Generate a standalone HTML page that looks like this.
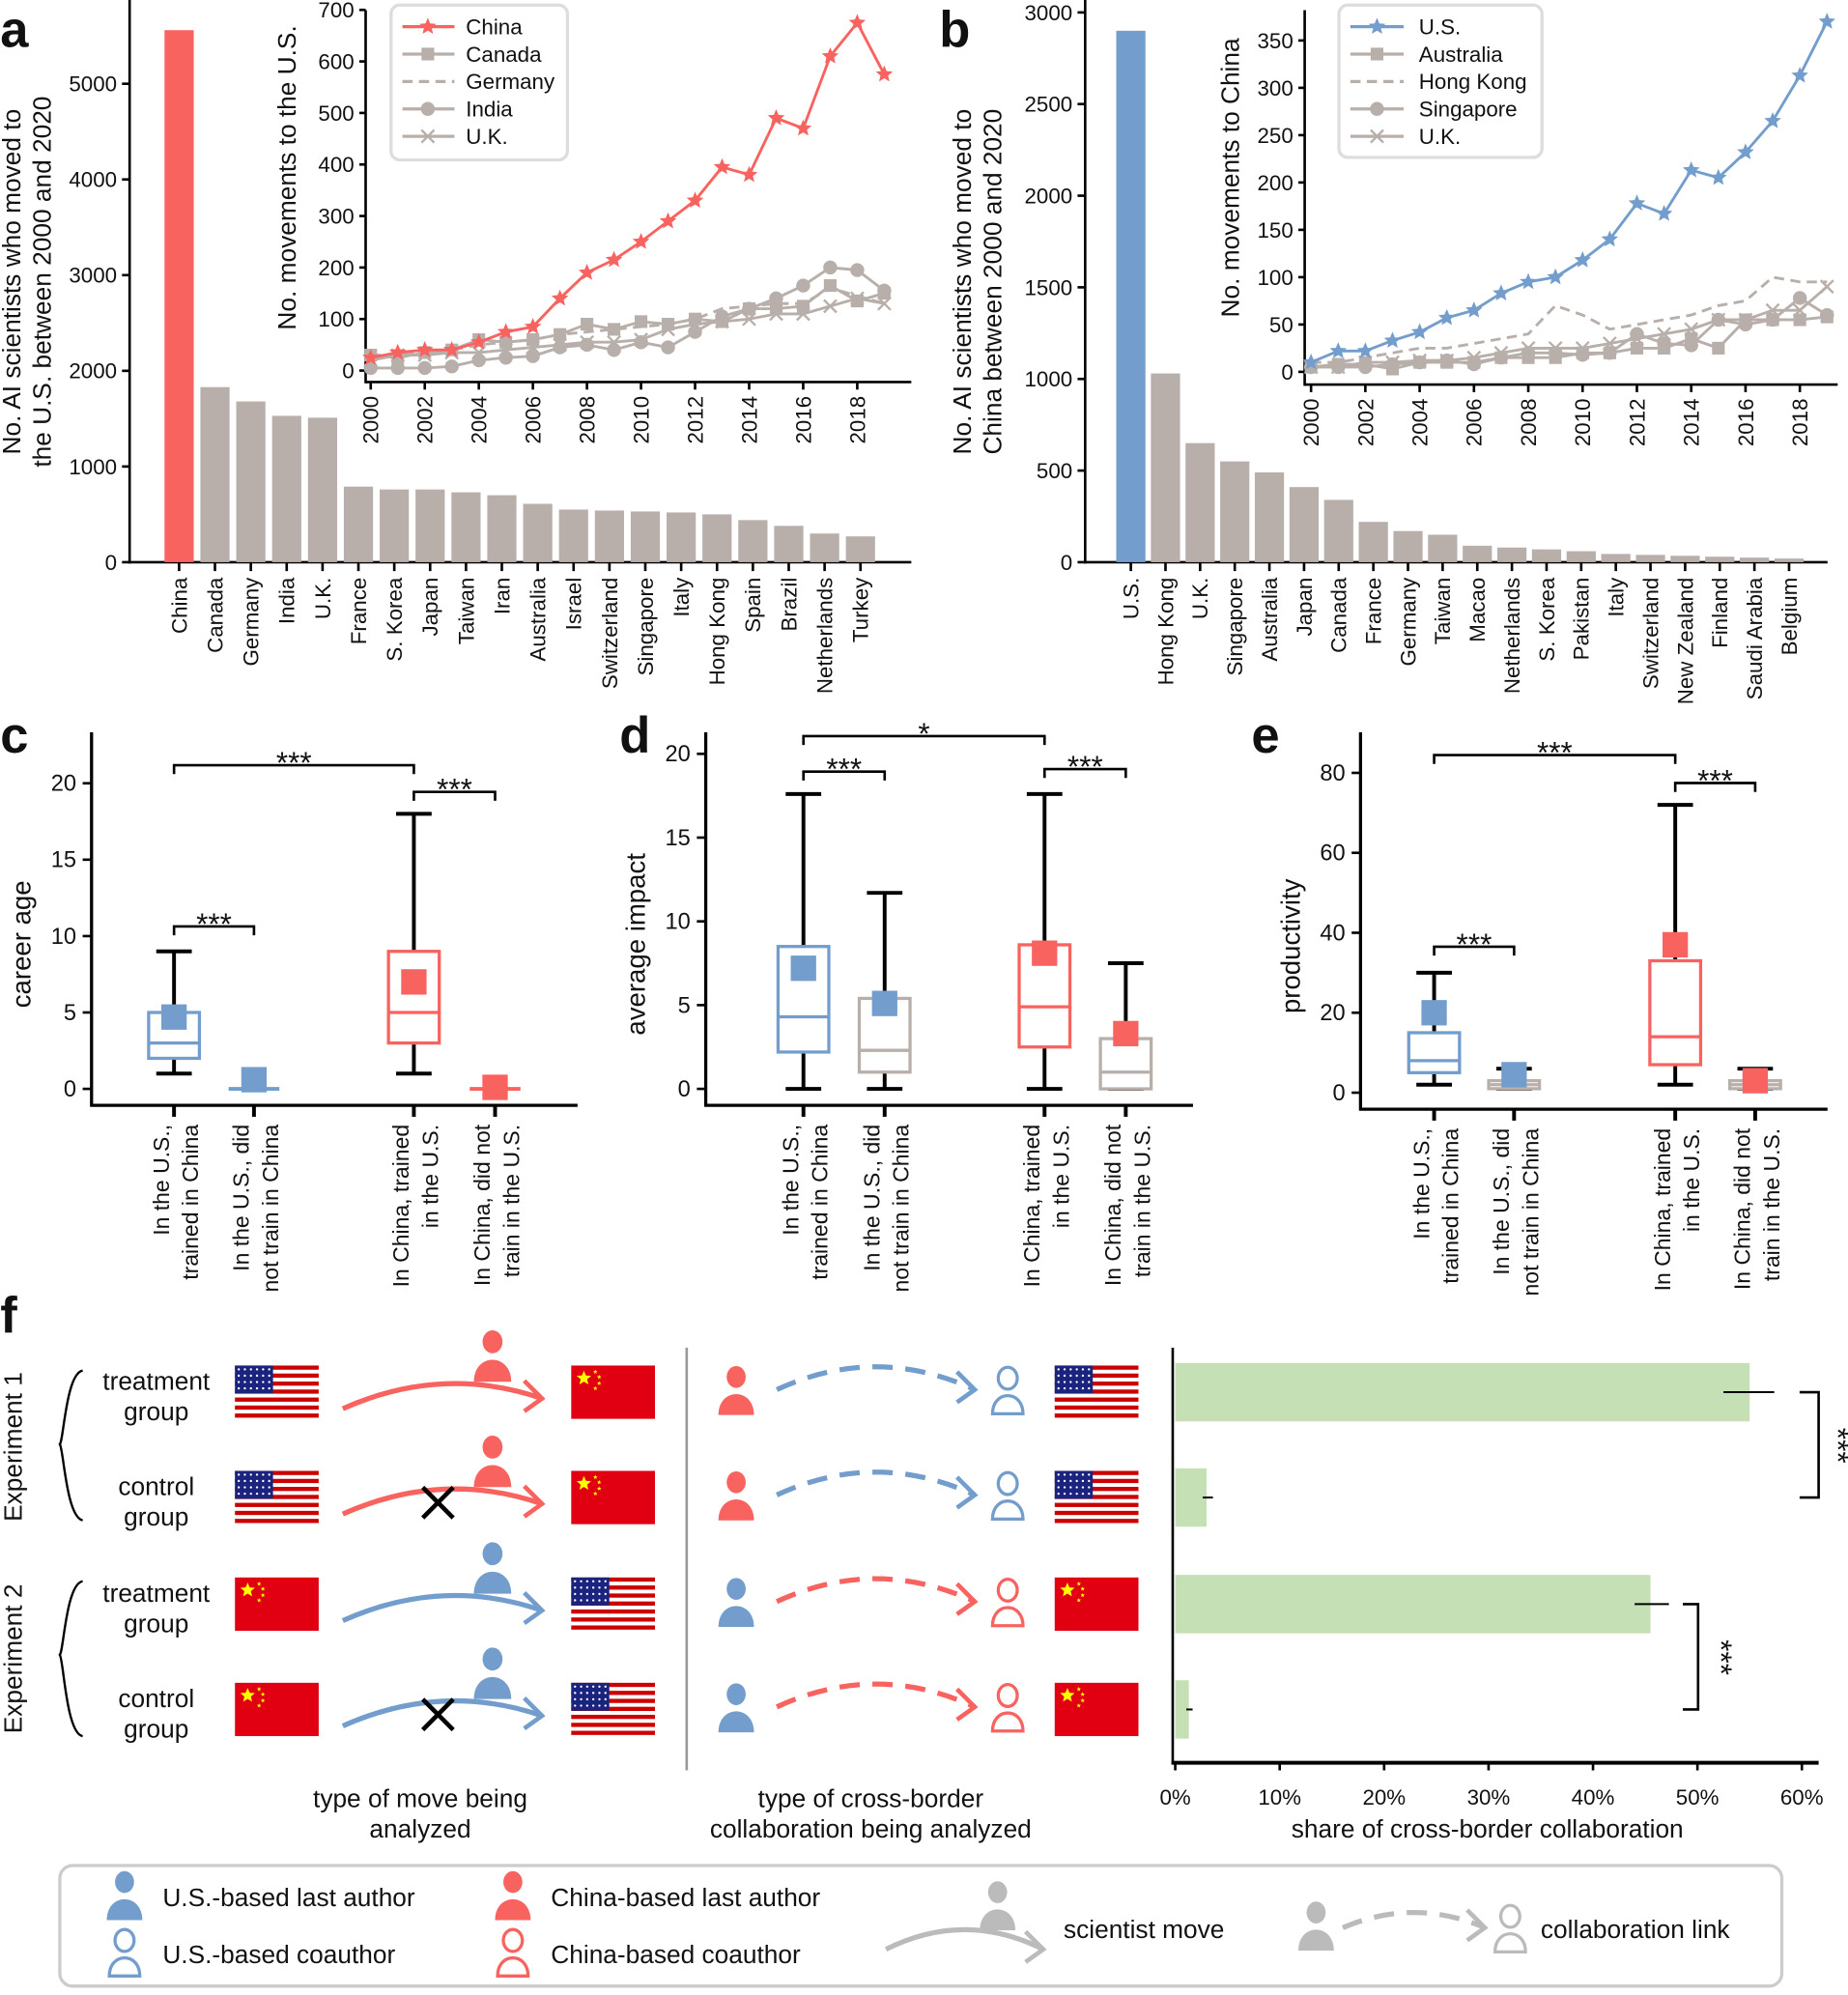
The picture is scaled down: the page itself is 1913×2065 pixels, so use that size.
<!DOCTYPE html>
<html><head><meta charset="utf-8"><style>
html,body{margin:0;padding:0;background:#fff;}
svg{display:block;font-family:"Liberation Sans",sans-serif;}
</style></head><body>
<svg id="s" xmlns="http://www.w3.org/2000/svg" width="1913" height="2065" viewBox="0 0 1456 1572"></svg>
<script>
const S=document.getElementById('s');
let H='';
const R='#f8625f',B='#739dcc',G='#b8afab',GL='#c5e0b4';
function t(x,y,s,o){o=o||{};H+=`<text x="${x}" y="${y}" font-size="${o.fs||17}" fill="${o.c||'#111'}" text-anchor="${o.a||'start'}" ${o.fw?'font-weight="'+o.fw+'"':''} ${o.r!==undefined?`transform="rotate(${o.r} ${x} ${y})"`:''}>${s}</text>`;}
function l(x1,y1,x2,y2,c,w,d){H+=`<line x1="${x1}" y1="${y1}" x2="${x2}" y2="${y2}" stroke="${c||'#000'}" stroke-width="${w||2}" ${d?'stroke-dasharray="'+d+'"':''}/>`;}
function rc(x,y,w,h,f,st,sw){H+=`<rect x="${x}" y="${y}" width="${w}" height="${h}" fill="${f||'none'}" ${st?`stroke="${st}" stroke-width="${sw||2.5}"`:''}/>`;}
function pl(pts,c,w,d){H+=`<polyline points="${pts.map(p=>p.join(',')).join(' ')}" fill="none" stroke="${c}" stroke-width="${w||2}" ${d?'stroke-dasharray="'+d+'"':''}/>`;}
function star(x,y,r,c){let p=[];for(let i=0;i<10;i++){let a=-Math.PI/2+i*Math.PI/5,rr=i%2?r*0.45:r;p.push([x+rr*Math.cos(a),y+rr*Math.sin(a)]);}H+=`<polygon points="${p.map(q=>q.join(',')).join(' ')}" fill="${c}"/>`;}
function mk(type,x,y,c){if(type=='star')star(x,y,7,c);else if(type=='sq')rc(x-5,y-5,10,10,c);else if(type=='ci')H+=`<circle cx="${x}" cy="${y}" r="5.5" fill="${c}"/>`;else if(type=='x'){l(x-5,y-5,x+5,y+5,c,1.8);l(x-5,y+5,x+5,y-5,c,1.8);}}
t(0,37,'a',{fs:40,fw:'bold'});t(740,37,'b',{fs:40,fw:'bold'});t(0,593,'c',{fs:40,fw:'bold'});t(488,593,'d',{fs:40,fw:'bold'});t(986,593,'e',{fs:40,fw:'bold'});t(0,1050,'f',{fs:40,fw:'bold'});

(function(){
const y0=443,k=0.0754,x0=141,dx=28.26;
const names=['China','Canada','Germany','India','U.K.','France','S. Korea','Japan','Taiwan','Iran','Australia','Israel','Switzerland','Singapore','Italy','Hong Kong','Spain','Brazil','Netherlands','Turkey'];
const v=[5560,1830,1680,1530,1510,790,760,760,730,700,610,550,540,530,520,500,440,380,300,270];
l(102,0,102,444,'#000',2);l(101,443,718,443,'#000',2);
[0,1000,2000,3000,4000,5000].forEach(q=>{let y=y0-q*k;l(96,y,102,y);t(92,y+6,q,{a:'end'});});
names.forEach((n,i)=>{let x=x0+i*dx;rc(x-11.5,y0-v[i]*k,23,v[i]*k,i?G:R);l(x,443,x,450);t(x+6,455,n,{a:'end',r:-90});});
t(16,222,'No. AI scientists who moved to',{a:'middle',r:-90,fs:20});t(40,222,'the U.S. between 2000 and 2020',{a:'middle',r:-90,fs:20});
const ix=292,iy=292,ky=0.406,kx=21.3;
l(288,8,288,302);l(288,301,718,301);
[0,100,200,300,400,500,600,700].forEach(q=>{let y=iy-q*ky;l(283,y,288,y);t(279,y+6,q,{a:'end'});});
for(let yr=2000;yr<=2018;yr+=2){let x=ix+(yr-2000)*kx;l(x,301,x,307);t(x+6,312,yr,{a:'end',r:-90});}
t(233,140,'No.  movements to the U.S.',{a:'middle',r:-90,fs:20});
const P=(arr)=>arr.map((v,i)=>[ix+i*kx,iy-v*ky]);
const ser=[
['ci',[5,5,5,8,20,25,28,45,50,40,55,45,75,105,120,140,165,200,195,155],'',G],
['x',[20,30,30,35,35,40,45,50,55,55,60,80,90,95,100,110,110,125,140,130],'',G],
['', [30,30,35,40,50,55,60,70,75,80,85,90,100,120,125,130,130,160,145,130],'8,5',G],
['sq',[30,25,35,40,60,55,60,70,90,80,95,90,100,95,120,120,125,165,135,150],'',G],
['star',[25,35,40,40,55,75,85,140,190,215,250,290,330,395,380,490,470,610,675,575],'',R]];
ser.forEach(s=>{let p=P(s[1]);pl(p,s[3],2.2,s[2]);if(s[0])p.forEach(q=>mk(s[0],q[0],q[1],s[3]));});
H+=`<rect x="308" y="4" width="139" height="122" rx="7" fill="#fff" stroke="#ddd" stroke-width="2.5"/>`;
[['star',R,'China'],['sq',G,'Canada'],['',G,'Germany'],['ci',G,'India'],['x',G,'U.K.']].forEach((e,i)=>{let y=21+i*21.6;pl([[317,y],[358,y]],e[1],2.5,e[0]?'':'8,5');if(e[0])mk(e[0],337,y,e[1]);t(367,y+6,e[2]);});
})();

(function(){
const y0=443,k=0.1444,x0=891,dx=27.3;
const names=['U.S.','Hong Kong','U.K.','Singapore','Australia','Japan','Canada','France','Germany','Taiwan','Macao','Netherlands','S. Korea','Pakistan','Italy','Switzerland','New Zealand','Finland','Saudi Arabia','Belgium'];
const v=[2900,1030,650,550,490,410,340,220,170,150,90,80,70,60,45,40,35,30,25,20];
l(855,0,855,444);l(854,443,1440,443);
[0,500,1000,1500,2000,2500,3000].forEach(q=>{let y=y0-q*k;l(849,y,855,y);t(845,y+6,q,{a:'end'});});
names.forEach((n,i)=>{let x=x0+i*dx;rc(x-11.5,y0-v[i]*k,23,v[i]*k,i?G:B);l(x,443,x,450);t(x+6,455,n,{a:'end',r:-90});});
t(765,222,'No. AI scientists who moved to',{a:'middle',r:-90,fs:20});t(789,222,'China between 2000 and 2020',{a:'middle',r:-90,fs:20});
const ix=1033,iy=293,ky=0.746,kx=21.4;
l(1028,8,1028,304);l(1028,303,1448,303);
[0,50,100,150,200,250,300,350].forEach(q=>{let y=iy-q*ky;l(1023,y,1028,y);t(1019,y+6,q,{a:'end'});});
for(let yr=2000;yr<=2018;yr+=2){let x=ix+(yr-2000)*kx;l(x,303,x,309);t(x+6,314,yr,{a:'end',r:-90});}
t(976,140,'No.  movements to China',{a:'middle',r:-90,fs:20});
const P=(arr)=>arr.map((v,i)=>[ix+i*kx,iy-v*ky]);
const ser=[
['', [10,10,15,20,25,25,30,35,40,70,60,45,50,55,60,70,75,100,95,95],'8,5',G],
['x',[5,5,10,10,12,12,15,20,25,25,25,30,35,40,45,55,55,65,65,90],'',G],
['ci',[5,5,5,8,10,12,8,15,20,20,18,20,40,30,28,55,50,55,78,60],'',G],
['sq',[5,8,8,3,10,10,10,15,15,15,20,20,25,25,35,25,55,55,55,58],'',G],
['star',[10,22,22,33,42,57,65,83,95,100,118,140,178,167,213,205,232,265,313,370],'',B]];
ser.forEach(s=>{let p=P(s[1]);pl(p,s[3],2.2,s[2]);if(s[0])p.forEach(q=>mk(s[0],q[0],q[1],s[3]));});
H+=`<rect x="1055" y="4" width="160" height="120" rx="7" fill="#fff" stroke="#ddd" stroke-width="2.5"/>`;
[['star',B,'U.S.'],['sq',G,'Australia'],['',G,'Hong Kong'],['ci',G,'Singapore'],['x',G,'U.K.']].forEach((e,i)=>{let y=21+i*21.6;pl([[1064,y],[1106,y]],e[1],2.5,e[0]?'':'8,5');if(e[0])mk(e[0],1085,y,e[1]);t(1118,y+6,e[2]);});
})();

function boxPanel(o){
const y=v=>o.y0-v*o.k;
l(o.ax,o.top,o.ax,o.xb+1,'#000',2.5);l(o.ax-1,o.xb,o.xr,o.xb,'#000',2.5);
o.ticks.forEach(q=>{l(o.ax-7,y(q),o.ax,y(q),'#000',2);t(o.ax-12,y(q)+6,q,{a:'end',fs:18});});
t(o.ax-48,(o.top+o.xb)/2+20,o.lab,{a:'middle',r:-90,fs:21});
const labs=[['In the U.S.,','trained in China'],['In the U.S., did','not train in China'],['In China, trained','in the U.S.'],['In China, did not','train in the U.S.']];
o.b.forEach((b,i)=>{const x=o.cx[i];
 l(x,o.xb,x,o.xb+9,'#000',3);
 t(x-4,o.xb+15,labs[i][0],{a:'end',r:-90,fs:17.5});t(x+19,o.xb+15,labs[i][1],{a:'end',r:-90,fs:17.5});
 if(b.w){l(x,y(b.w[0]),x,y(b.w[1]),'#000',3);l(x-14,y(b.w[1]),x+14,y(b.w[1]),'#000',3);l(x-14,y(b.w[0]),x+14,y(b.w[0]),'#000',3);}
 if(b.q){rc(x-20,y(b.q[2]),40,y(b.q[0])-y(b.q[2]),'#fff',b.bc,2.5);l(x-20,y(b.q[1]),x+20,y(b.q[1]),b.bc,2.5);}
 else l(x-20,y(0),x+20,y(0),b.bc,3);
 rc(x-10,y(b.m)-10,20,20,b.mc);
});
o.br.forEach(b=>{const[x1,x2,yy,s]=b;H+=`<polyline points="${x1},${yy+7} ${x1},${yy} ${x2},${yy} ${x2},${yy+7}" fill="none" stroke="#000" stroke-width="2"/>`;t((x1+x2)/2,yy+6,s,{a:'middle',fs:24});});
}
boxPanel({ax:72,top:577,xb:871,xr:455,y0:858,k:12.04,ticks:[0,5,10,15,20],lab:'career age',cx:[137,200,326,390],
b:[{w:[1,9],q:[2,3,5],bc:B,m:4.7,mc:B},{m:0.6,mc:B,bc:B},{w:[1,18],q:[3,5,9],bc:R,m:7,mc:R},{m:0.1,mc:R,bc:R}],
br:[[137,200,730,'***'],[326,390,624,'***'],[137,326,603,'***']]});
boxPanel({ax:556,top:577,xb:871,xr:940,y0:858,k:13.2,ticks:[0,5,10,15,20],lab:'average  impact',cx:[633,697,823,887],
b:[{w:[0,17.6],q:[2.2,4.3,8.5],bc:B,m:7.2,mc:B},{w:[0,11.7],q:[1,2.3,5.4],bc:G,m:5.1,mc:B},{w:[0,17.6],q:[2.5,4.9,8.6],bc:R,m:8.1,mc:R},{w:[0,7.5],q:[0,1,3],bc:G,m:3.3,mc:R}],
br:[[633,697,608,'***'],[823,887,606,'***'],[633,823,580,'*']]});
boxPanel({ax:1072,top:577,xb:874,xr:1440,y0:861,k:3.15,ticks:[0,20,40,60,80],lab:'productivity',cx:[1130,1193,1320,1383],
b:[{w:[2,30],q:[5,8,15],bc:B,m:20,mc:B},{w:[1,6],q:[1,2,3],bc:G,m:4.5,mc:B},{w:[2,72],q:[7,14,33],bc:R,m:37,mc:R},{w:[1,6],q:[1,2,3],bc:G,m:3,mc:R}],
br:[[1130,1193,746,'***'],[1320,1383,617,'***'],[1130,1320,595,'***']]});

function usflag(x,y){rc(x,y,66,42,'#fff');for(let i=0;i<7;i++)rc(x,y+i*6.3,66,3.3,'#c00');rc(x,y,30,22,'#1a237e');for(let i=0;i<4;i++)for(let j=0;j<6;j++)H+=`<circle cx="${x+3+j*4.8}" cy="${y+3+i*5}" r="0.9" fill="#fff"/>`;}
function cnflag(x,y){rc(x,y,66,42,'#e00012');star(x+10,y+10,6,'#ff0');[[19,5],[22,9],[22,14],[19,18]].forEach(p=>star(x+p[0],y+p[1],1.8,'#ff0'));}
function person(x,y,c,filled,sc){sc=sc||1;const hr=7.5*sc;
 if(filled){H+=`<ellipse cx="${x}" cy="${y-14*sc}" rx="${hr}" ry="${hr*1.15}" fill="${c}"/><path d="M${x-14*sc},${y+16*sc} C${x-14*sc},${y-6*sc} ${x+14*sc},${y-6*sc} ${x+14*sc},${y+16*sc} Z" fill="${c}"/>`;}
 else{H+=`<ellipse cx="${x}" cy="${y-13*sc}" rx="${hr}" ry="${hr*1.15}" fill="#fff" stroke="${c}" stroke-width="2.5"/><path d="M${x-12*sc},${y+15*sc} C${x-12*sc},${y-4*sc} ${x+12*sc},${y-4*sc} ${x+12*sc},${y+15*sc} Z" fill="#fff" stroke="${c}" stroke-width="2.5"/>`;}}
function arrow(x1,y1,x2,y2,c,dash,cy){const mx=(x1+x2)/2;H+=`<path d="M${x1},${y1} Q${mx},${cy} ${x2},${y2}" fill="none" stroke="${c}" stroke-width="4" ${dash?'stroke-dasharray="16,10"':''}/>`;
 H+=`<polyline points="${x2-14},${y2-14} ${x2},${y2} ${x2-14},${y2+10}" fill="none" stroke="${c}" stroke-width="3.5"/>`;}
const rows=[1097,1180,1264,1347];
rows.forEach((y,i)=>{const e1=i<2,mc=e1?R:B,cc=e1?B:R;
 t(123,y-2,i%2?'control':'treatment',{a:'middle',fs:20});t(123,y+22,'group',{a:'middle',fs:20});
 if(e1)usflag(185,y-21);else cnflag(185,y-21);
 if(e1)cnflag(450,y-21);else usflag(450,y-21);
 arrow(270,y+13,427,y+5,mc,false,y-22);
 person(388,y-25,mc,true,1.05);
 if(i%2){l(333,y-8,357,y+16,'#000',3.5);l(357,y-8,333,y+16,'#000',3.5);}
 person(580,y+2,mc,true);
 arrow(612,y-2,768,y-2,cc,true,y-38);
 person(794,y+2,cc,false);
 if(e1)usflag(831,y-21);else cnflag(831,y-21);
});
H+=`<path d="M65,1080 C52,1082 50,1135 47,1138 C50,1142 52,1195 65,1198" fill="none" stroke="#000" stroke-width="1.8"/>`;
H+=`<path d="M65,1246 C52,1248 50,1301 47,1304 C50,1308 52,1366 65,1368" fill="none" stroke="#000" stroke-width="1.8"/>`;
t(17,1140,'Experiment  1',{a:'middle',r:-90,fs:20});t(17,1307,'Experiment  2',{a:'middle',r:-90,fs:20});
l(541,1062,541,1395,'#999',2);
t(331,1424,'type of move being',{a:'middle',fs:20});t(331,1448,'analyzed',{a:'middle',fs:20});
t(686,1424,'type of cross-border',{a:'middle',fs:20});t(686,1448,'collaboration being analyzed',{a:'middle',fs:20});
const bx=926,bk=8.23;
[55,3,45.5,1.3].forEach((v,i)=>{rc(bx,rows[i]-23,v*bk,46,GL);});
l(1358,1097,1398,1097,'#000',1.5);l(bx+3*bk-3,1180,bx+3*bk+5,1180,'#000',1.5);l(1288,1264,1315,1264,'#000',1.5);l(bx+1.3*bk-2,1347,bx+1.3*bk+3,1347,'#000',1.5);
l(924,1062,924,1390,'#000',2);l(923,1389,1433,1389,'#000',3);
for(let q=0;q<=60;q+=10){const x=bx+q*bk;l(x,1389,x,1395,'#000',2);t(x,1422,q+'%',{a:'middle',fs:17});}
t(1172,1448,'share of cross-border collaboration',{a:'middle',fs:20});
H+=`<polyline points="1418,1097 1433,1097 1433,1180 1418,1180" fill="none" stroke="#000" stroke-width="2"/>`;
H+=`<polyline points="1326,1264 1338,1264 1338,1347 1326,1347" fill="none" stroke="#000" stroke-width="2"/>`;
t(1440,1139,'***',{a:'middle',r:90,fs:24});t(1348,1306,'***',{a:'middle',r:90,fs:24});
H+=`<rect x="47" y="1470" width="1357" height="95" rx="10" fill="#fff" stroke="#ccc" stroke-width="2.5"/>`;
person(98,1497,B,true);t(128,1502,'U.S.-based last author',{fs:20});
person(98,1542,B,false);t(128,1547,'U.S.-based coauthor',{fs:20});
person(404,1497,R,true);t(434,1502,'China-based last author',{fs:20});
person(404,1542,R,false);t(434,1547,'China-based coauthor',{fs:20});
arrow(698,1536,822,1536,'#bbb',false,1505);person(786,1505,'#bbb',true);t(838,1527,'scientist move',{fs:20});
person(1037,1521,'#bbb',true);arrow(1058,1519,1170,1519,'#bbb',true,1495);person(1190,1523,'#bbb',false);t(1214,1527,'collaboration link',{fs:20});
S.innerHTML=H;
</script>
</body></html>
